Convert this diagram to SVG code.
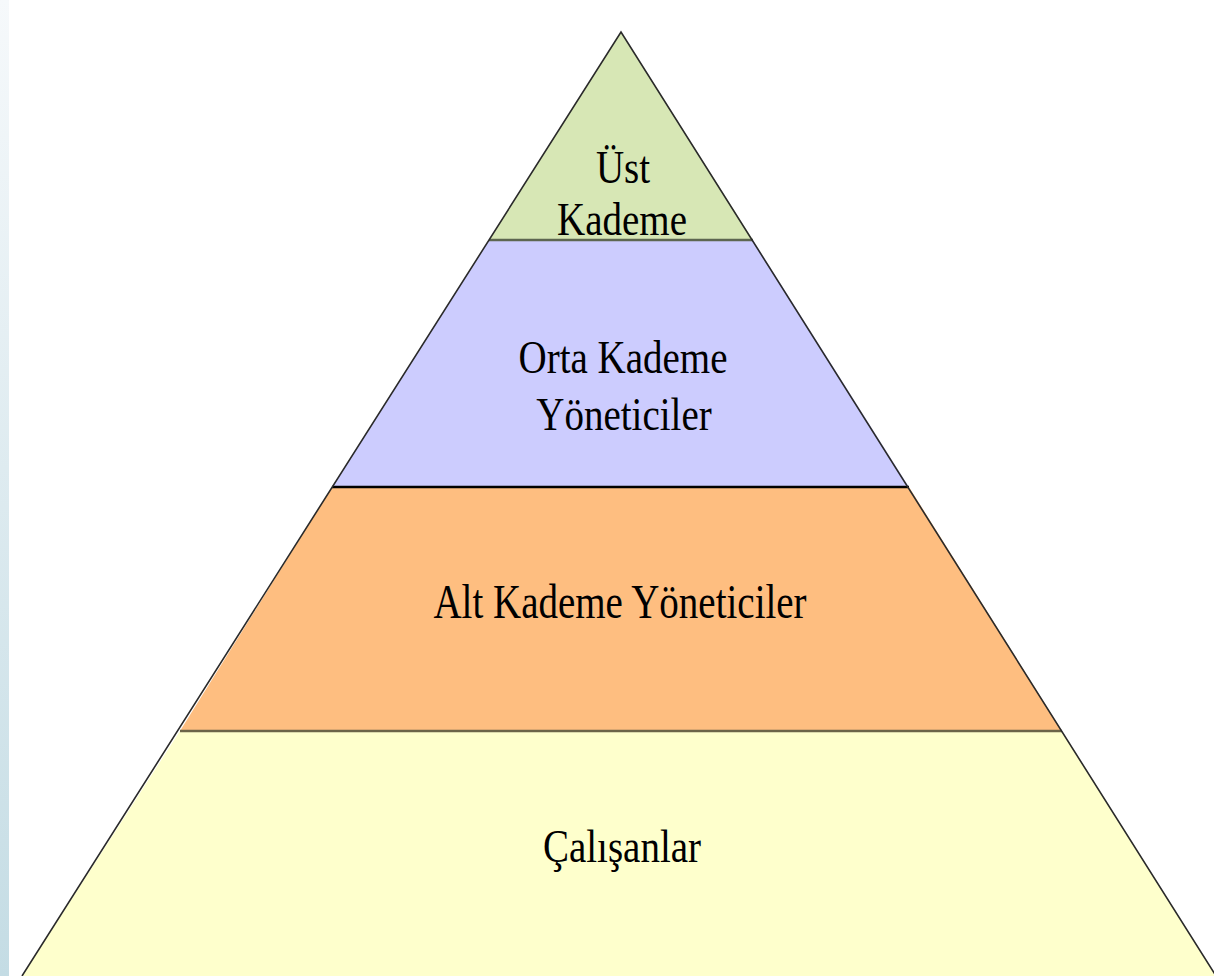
<svg xmlns="http://www.w3.org/2000/svg" width="1214" height="976" viewBox="0 0 1214 976">
  <defs>
    <linearGradient id="strip" x1="0" y1="0" x2="0" y2="1">
      <stop offset="0" stop-color="#f6f9fb"/>
      <stop offset="1" stop-color="#c4dce4"/>
    </linearGradient>
    <style>
      .lbl { font-family: "Liberation Serif", "Times New Roman", serif; font-size: 39px; fill: #000; text-anchor: middle; }
      .edge { fill: none; stroke: #2a2a2a; stroke-width: 1.6; }
      .sep { stroke-width: 2.5; }
    </style>
  </defs>
  <rect x="0" y="0" width="1214" height="976" fill="#ffffff"/>
  <rect x="0" y="0" width="9" height="976" fill="url(#strip)"/>

  <g id="tier-ust">
    <polygon points="621,32 489,240 753,240" fill="#d7e7b5"/>
    <text class="lbl" font-size="35" transform="translate(623,183) scale(1,1.18)">Üst</text>
    <text class="lbl" font-size="35" transform="translate(622,235) scale(1,1.18)">Kademe</text>
  </g>
  <g id="tier-orta">
    <polygon points="489,240 753,240 909,487 332,487" fill="#ccccfe"/>
    <text class="lbl" transform="translate(623,373) scale(1,1.2)">Orta Kademe</text>
    <text class="lbl" transform="translate(624,430) scale(1,1.2)">Yöneticiler</text>
  </g>
  <g id="tier-alt">
    <polygon points="332,487 909,487 1062,731 180,731" fill="#febe80"/>
    <text class="lbl" transform="translate(620,618) scale(1,1.22)">Alt Kademe Yöneticiler</text>
  </g>
  <g id="tier-calisanlar">
    <polygon points="180,731 1062,731 1216,976 22,976" fill="#feffcc"/>
    <text class="lbl" transform="translate(622,862) scale(1,1.2)">Çalışanlar</text>
  </g>

  <g id="connectors">
    <line x1="489" y1="240" x2="753" y2="240" stroke="#5d6650" class="sep"/>
    <line x1="332" y1="487" x2="909" y2="487" stroke="#000000" class="sep"/>
    <line x1="180" y1="731" x2="1062" y2="731" stroke="#6b6448" class="sep"/>
    <polyline class="edge" points="22,976 621,32 1216,976"/>
  </g>
</svg>
